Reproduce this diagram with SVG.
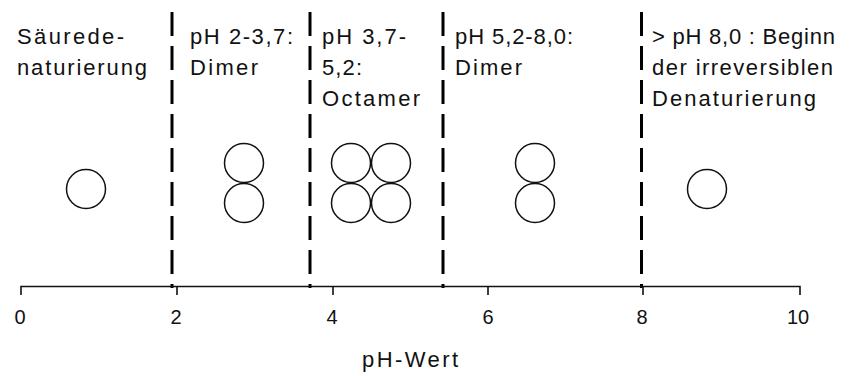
<svg xmlns="http://www.w3.org/2000/svg" width="857" height="376" viewBox="0 0 857 376">
<style>
text{font-family:"Liberation Sans",Arial,sans-serif;font-size:22px;fill:#111}
.lbl{font-size:22px}
.tick{font-size:20px;text-anchor:middle}
.ax{stroke:#111;stroke-width:1.6;fill:none}
.dash{stroke:#000;stroke-width:3;stroke-dasharray:24 10;fill:none}
.mol{fill:#fff;stroke:#111;stroke-width:1.5}
</style>
<rect width="857" height="376" fill="#fff"/>
<g id="connectors">
<line class="dash" x1="172" y1="12" x2="172" y2="288"/>
<line class="dash" x1="310" y1="12" x2="310" y2="288"/>
<line class="dash" x1="443" y1="12" x2="443" y2="288"/>
<line class="dash" x1="641.5" y1="12" x2="641.5" y2="288"/>
</g>
<g id="axis">
<path class="ax" d="M21,295 V286.5 H800 V295 M177,286.5 V295 M333,286.5 V295 M488,286.5 V295 M643,286.5 V295"/>
<text class="tick" x="20" y="324">0</text>
<text class="tick" x="176" y="324">2</text>
<text class="tick" x="332" y="324">4</text>
<text class="tick" x="488" y="324">6</text>
<text class="tick" x="642" y="324">8</text>
<text class="tick" x="798" y="324">10</text>
<text class="lbl" x="362" y="367" textLength="96" lengthAdjust="spacing">pH-Wert</text>
</g>
<g id="region-acid">
<text class="lbl" x="17" y="44" textLength="107" lengthAdjust="spacing">Säurede-</text>
<text class="lbl" x="17" y="75" textLength="130" lengthAdjust="spacing">naturierung</text>
<circle class="mol" cx="86" cy="189" r="19.5"/>
</g>
<g id="region-dimer1">
<text class="lbl" x="190" y="44" textLength="103" lengthAdjust="spacing">pH 2-3,7:</text>
<text class="lbl" x="190" y="75" textLength="68" lengthAdjust="spacing">Dimer</text>
<circle class="mol" cx="244" cy="163" r="19.5"/>
<circle class="mol" cx="244" cy="203" r="19.5"/>
</g>
<g id="region-octamer">
<text class="lbl" x="322" y="44" textLength="84" lengthAdjust="spacing">pH 3,7-</text>
<text class="lbl" x="322" y="75" textLength="40" lengthAdjust="spacing">5,2:</text>
<text class="lbl" x="322" y="106" textLength="98" lengthAdjust="spacing">Octamer</text>
<circle class="mol" cx="351" cy="163" r="19.5"/>
<circle class="mol" cx="391" cy="163" r="19.5"/>
<circle class="mol" cx="351" cy="203" r="19.5"/>
<circle class="mol" cx="391" cy="203" r="19.5"/>
</g>
<g id="region-dimer2">
<text class="lbl" x="455" y="44" textLength="118" lengthAdjust="spacing">pH 5,2-8,0:</text>
<text class="lbl" x="455" y="75" textLength="67" lengthAdjust="spacing">Dimer</text>
<circle class="mol" cx="535" cy="163" r="19.5"/>
<circle class="mol" cx="535" cy="203" r="19.5"/>
</g>
<g id="region-denat">
<text class="lbl" x="652" y="44" textLength="183" lengthAdjust="spacing">&gt; pH 8,0 : Beginn</text>
<text class="lbl" x="652" y="75" textLength="181" lengthAdjust="spacing">der irreversiblen</text>
<text class="lbl" x="652" y="106" textLength="164" lengthAdjust="spacing">Denaturierung</text>
<circle class="mol" cx="707" cy="189" r="19.5"/>
</g>
</svg>
